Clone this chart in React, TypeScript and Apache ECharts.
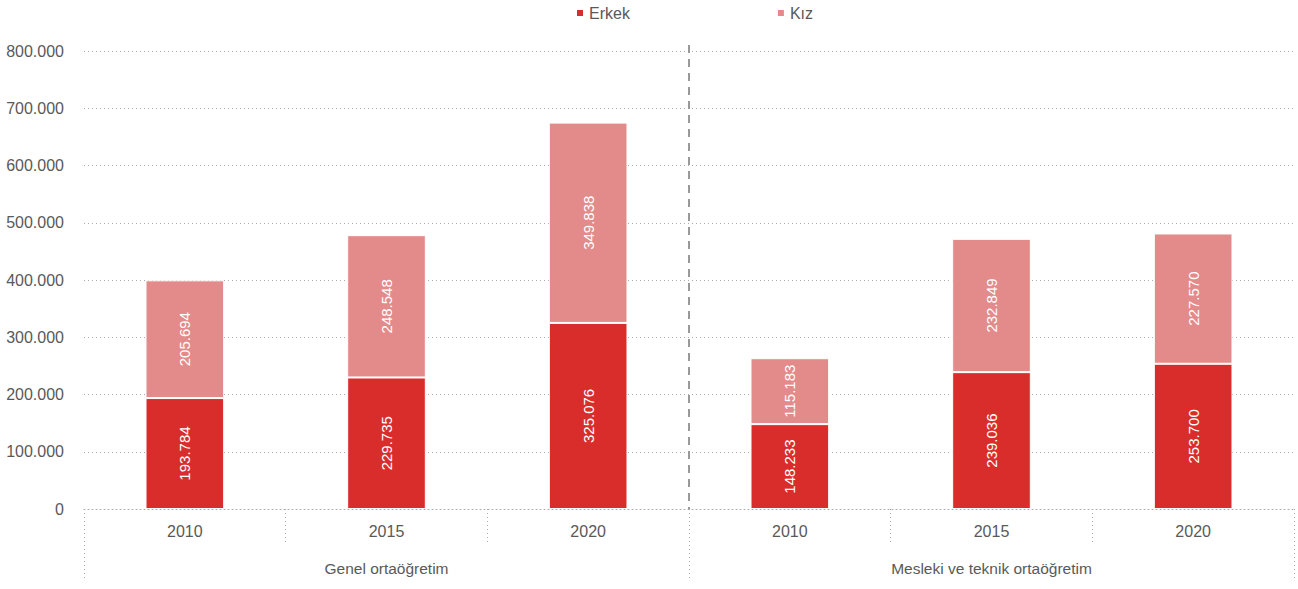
import React, { useEffect, useRef } from "react";
import * as echarts from "echarts";

const years = ["2010", "2015", "2020", "2010", "2015", "2020"];
const groups = ["Genel ortaöğretim", "Mesleki ve teknik ortaöğretim"];
const erkek = [193784, 229735, 325076, 148233, 239036, 253700];
const kiz = [205694, 248548, 349838, 115183, 232849, 227570];
const seriesNames = ["Erkek", "Kız"];

const FONT = "'Liberation Sans Narrow', 'Liberation Sans', Arial, sans-serif";
const TXT = "#595959";
const fmt = (v: number) => String(Math.round(v)).replace(/\B(?=(\d{3})+(?!\d))/g, ".");

const GL = 84, GR = 4, GT = 51, GB = 80;
const W = 1298, H = 589;

export default function App() {
  const ref = useRef<HTMLDivElement>(null);
  useEffect(() => {
    const chart = echarts.init(ref.current!, null, { renderer: "svg" });
    const midX = GL + (W - GL - GR) / 2;
    const labelCfg = {
      show: true,
      rotate: 90,
      color: "#fff",
      fontFamily: FONT,
      fontSize: 15,
      formatter: (p: any) => fmt(p.value),
    };
    const dotted = { color: "#aaa", type: [1, 3], width: 1 };
    chart.setOption({
      animation: false,
      textStyle: { fontFamily: FONT },
      legend: {
        top: 0,
        left: 570,
        itemWidth: 8,
        itemHeight: 8,
        itemGap: 146,
        icon: "rect",
        textStyle: { color: TXT, fontSize: 16, fontFamily: FONT },
        data: seriesNames,
      },
      grid: { left: GL, right: GR, top: GT, bottom: GB, containLabel: false },
      xAxis: [
        {
          type: "category",
          data: years,
          position: "bottom",
          axisLine: { show: true, lineStyle: dotted },
          axisTick: { show: true, length: 36, lineStyle: dotted },
          axisLabel: { color: TXT, fontSize: 16, fontFamily: FONT, margin: 14 },
        },
        {
          type: "category",
          data: groups,
          position: "bottom",
          offset: 0,
          axisLine: { show: false },
          axisTick: { show: true, length: 72, lineStyle: dotted },
          axisLabel: { color: TXT, fontSize: 15.5, fontFamily: FONT, margin: 51 },
        },
      ],
      yAxis: {
        type: "value",
        min: 0,
        max: 800000,
        interval: 100000,
        axisLine: { show: false },
        axisTick: { show: false },
        axisLabel: { color: TXT, fontSize: 16, fontFamily: FONT, margin: 20, formatter: (v: number) => fmt(v) },
        splitLine: { lineStyle: dotted },
      },
      series: [
        {
          name: seriesNames[0],
          type: "bar",
          stack: "a",
          data: erkek,
          barWidth: "39%",
          itemStyle: { color: "#D92D2C", borderColor: "#fff", borderWidth: 1 },
          label: labelCfg,
        },
        {
          name: seriesNames[1],
          type: "bar",
          stack: "a",
          data: kiz,
          barWidth: "39%",
          itemStyle: { color: "#E38A8A", borderColor: "#fff", borderWidth: 1 },
          label: labelCfg,
        },
      ],
      graphic: [
        {
          type: "line",
          shape: { x1: midX, y1: 45, x2: midX, y2: H - GB },
          style: { stroke: "#999", lineWidth: 2, lineDash: [8, 6] },
          z: 10,
        },
      ],
    });
    return () => chart.dispose();
  }, []);
  return <div ref={ref} style={{ width: W, height: H, position: "absolute", left: 0, top: 0 }} />;
}
